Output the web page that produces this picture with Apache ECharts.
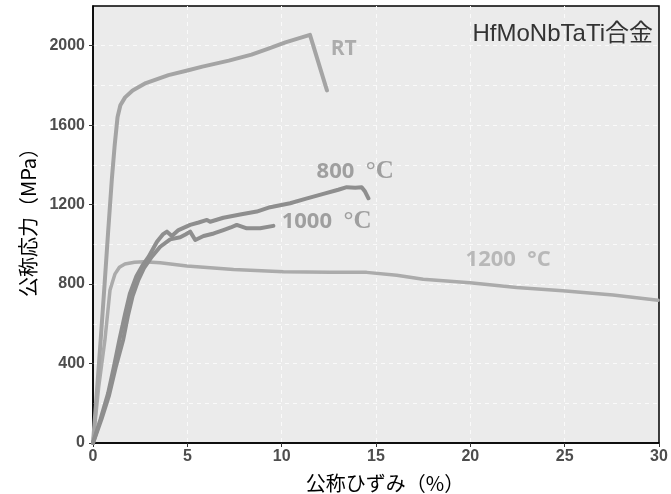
<!DOCTYPE html>
<html>
<head>
<meta charset="utf-8">
<script src="https://cdn.jsdelivr.net/npm/echarts@6/dist/echarts.min.js"></script>
<style>
html,body{margin:0;padding:0;background:#fff;}
#chart{width:671px;height:494px;}
</style>
</head>
<body>
<div id="chart"></div>
<script>
// ---- data (strain %, stress MPa) ----
var rtCurve = [[0,0],[0.2,250],[0.4,510],[0.6,780],[0.8,1060],[1.0,1330],[1.15,1500],[1.3,1640],[1.45,1700],[1.7,1740],[2.1,1775],[2.8,1812],[4.0,1852],[5.0,1875],[5.8,1895],[7.2,1925],[8.4,1955],[9.3,1985],[10.2,2017],[11.5,2055],[12.4,1775]];
var c800Curve = [[0,0],[0.4,120],[0.8,250],[1.1,380],[1.4,520],[1.7,650],[1.95,750],[2.3,840],[2.6,890],[2.95,938],[3.39,1013],[3.7,1050],[3.92,1064],[4.18,1042],[4.53,1072],[5.15,1098],[5.6,1110],[6.04,1123],[6.21,1114],[6.91,1134],[7.8,1150],[8.68,1165],[9.39,1187],[10.45,1207],[11.3,1230],[12.21,1254],[13.0,1275],[13.45,1288],[13.9,1285],[14.24,1288],[14.42,1266],[14.6,1232]];
var c1000Curve = [[0,0],[0.45,120],[0.85,240],[1.2,380],[1.6,520],[1.85,640],[2.1,740],[2.4,820],[2.7,880],[3.12,938],[3.56,988],[4.09,1025],[4.62,1036],[4.9,1050],[5.15,1064],[5.42,1022],[5.86,1042],[6.4,1055],[6.91,1072],[7.3,1085],[7.62,1098],[8.15,1081],[8.86,1081],[9.56,1093]];
var c1200Curve = [[0,0],[0.3,280],[0.63,517],[0.9,769],[1.0,800],[1.16,850],[1.4,885],[1.69,901],[2.2,910],[2.68,913],[3.56,907],[4.98,891],[7.45,874],[10.09,862],[12.56,859],[14.5,859],[16.1,845],[17.5,824],[19.98,807],[22.45,783],[24.9,766],[27.56,745],[29.95,719]];
var xTicks = [0,5,10,15,20,25,30];
var yTicks = [0,400,800,1200,1600,2000];
var labelNames = ['RT','800','1000','1200'];
var labelPos = [[12.6,1985],[11.85,1367],[10.0,1114],[19.75,925]];
var titleText = 'HfMoNbTaTi合金';
var xTitle = '公称ひずみ（%）';
var yTitle = '公称応力（MPa）';

var chart = echarts.init(document.getElementById('chart'), null, {renderer:'canvas'});
var tickFont = {color:'#4D4D4D', fontWeight:'bold', fontSize:16, fontFamily:'Liberation Sans'};
var gridDash = {color:'#FAFAFA', type:[4,4], width:1};

function lineSeries(data, color, width){
  return {type:'line', data:data, showSymbol:false, symbol:'none', smooth:false,
    lineStyle:{color:color, width:width, cap:'round', join:'round'}, animation:false, z:3};
}

var numStyle = function(c){ return {color:c, fontWeight:'bold', fontSize:22, fontFamily:'Open Sans'}; };
var degSerif = {color:'#8C8C8C', fontWeight:'bold', fontSize:25, fontFamily:'Liberation Serif'};
var labelStyles = {
  RT: {text:'{a|RT}', rich:{a:{color:'#9C9C9C', fontWeight:'bold', fontSize:21, fontFamily:'Open Sans'}}},
  '800': {text:'{a|800  }{b|°C}', rich:{a:numStyle('#8C8C8C'), b:degSerif}},
  '1000': {text:'{a|1000  }{b|°C}', rich:{a:numStyle('#8C8C8C'), b:degSerif}},
  '1200': {text:'{a|1200  °C}', rich:{a:numStyle('#ABABAB')}}
};

var labelData = labelNames.map(function(n,i){
  var s = labelStyles[n];
  return {value:labelPos[i], label:{show:true, position:'right', distance:0, formatter:s.text, rich:s.rich}};
});

function plain(v){ return String(v); }

chart.setOption({
  backgroundColor:'#ffffff',
  animation:false,
  grid:{left:93, right:12, top:6, bottom:51, containLabel:false, outerBoundsMode:'none', show:true, backgroundColor:'#EBEBEB', borderColor:'#000', borderWidth:1.5},
  xAxis:{type:'value', min:0, max:30, interval:5,
    axisLine:{show:true, onZero:false, lineStyle:{color:'#000', width:1.5}},
    axisTick:{show:true, length:4, lineStyle:{color:'#333'}, customValues:xTicks},
    axisLabel:Object.assign({margin:6, customValues:xTicks, formatter:plain}, tickFont),
    splitLine:{show:true, showMinLine:false, showMaxLine:false, lineStyle:gridDash},
    name:xTitle, nameLocation:'middle', nameGap:30,
    nameTextStyle:{color:'#000', fontSize:20, fontFamily:'Noto Sans CJK JP', padding:[0,0,0,18]}},
  yAxis:[{type:'value', min:0, max:2200, interval:400,
    axisLine:{show:true, onZero:false, lineStyle:{color:'#000', width:1.5}},
    axisTick:{show:true, length:4, lineStyle:{color:'#333'}, customValues:yTicks},
    axisLabel:Object.assign({margin:8, customValues:yTicks, formatter:plain}, tickFont),
    splitLine:{show:false},
    name:yTitle, nameLocation:'middle', nameGap:44,
    nameTextStyle:{color:'#000', fontSize:20, fontFamily:'Noto Sans CJK JP', padding:[0,0,0,14]}},
   {type:'value', min:0, max:2200, interval:200, position:'left',
    axisLine:{show:false}, axisTick:{show:false}, axisLabel:{show:false},
    splitLine:{show:true, showMinLine:false, showMaxLine:false, lineStyle:gridDash}}],
  graphic:[{type:'text', right:18, top:22, z:10, style:{text:titleText, fill:'#333', fontSize:24, fontFamily:'Liberation Sans, Noto Sans CJK JP'}}],
  series:[
    lineSeries(c1200Curve, '#ABABAB', 3.5),
    lineSeries(rtCurve, '#A4A4A4', 4),
    lineSeries(c800Curve, '#8E8E8E', 4),
    lineSeries(c1000Curve, '#8E8E8E', 4),
    {type:'scatter', data:labelData, symbolSize:0, animation:false, z:5, label:{show:true}}
  ]
});
</script>
</body>
</html>
